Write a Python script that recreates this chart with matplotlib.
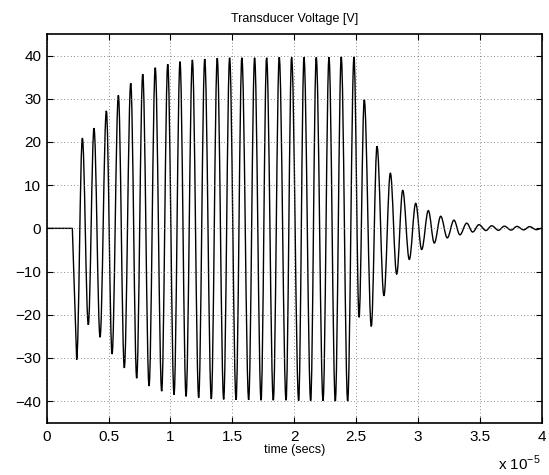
import matplotlib
matplotlib.use('Agg')
import matplotlib.pyplot as plt
from matplotlib.path import Path
from matplotlib.patches import PathPatch

plt.rcParams['font.family'] = ['Liberation Sans', 'DejaVu Sans']
plt.rcParams['mathtext.fontset'] = 'custom'
plt.rcParams['mathtext.rm'] = 'Liberation Sans'

# time axis is in units of 1e-5 s
t_end = 4.0
t_onset = 0.207          # drive switches on here, signal is flat before

# extrema of the transducer voltage (time, volts), in order
ext_t = [0.242, 0.288, 0.336, 0.382, 0.431, 0.482, 0.528, 0.579, 0.627, 0.679,
         0.727, 0.776, 0.827, 0.877, 0.929, 0.978, 1.029, 1.077, 1.126, 1.177,
         1.228, 1.277, 1.330, 1.378, 1.430, 1.478, 1.530, 1.577, 1.632, 1.680,
         1.732, 1.777, 1.831, 1.879, 1.934, 1.979, 2.036, 2.079, 2.133, 2.178,
         2.233, 2.281, 2.332, 2.380, 2.432, 2.483,
         2.524, 2.566, 2.623, 2.669, 2.725, 2.777, 2.828, 2.877, 2.930, 2.982,
         3.030, 3.084, 3.132, 3.184, 3.237, 3.291, 3.339, 3.394, 3.442, 3.493,
         3.549, 3.596, 3.651, 3.698, 3.753, 3.800, 3.855, 3.902, 3.957]
ext_v = [-30.4, 20.9, -22.3, 23.2, -25.2, 27.2, -29.1, 30.8, -32.3, 33.6,
         -34.7, 35.7, -36.5, 37.2, -37.7, 38.0, -38.5, 38.6, -38.9, 39.0,
         -39.2, 39.2, -39.5, 39.4, -39.6, 39.5, -39.7, 39.5, -39.7, 39.5,
         -39.8, 39.5, -39.8, 39.6, -39.8, 39.6, -39.9, 39.6, -39.9, 39.6,
         -39.9, 39.6, -40.0, 39.7, -40.0, 39.7,
         -20.6, 29.8, -22.7, 19.0, -15.6, 12.8, -10.6, 8.8, -7.2, 5.8,
         -4.9, 4.1, -3.4, 2.8, -2.2, 1.9, -1.5, 1.2, -0.85, 0.85,
         -0.5, 0.6, -0.45, 0.5, -0.4, 0.45, -0.35, 0.4, -0.3]

xticks = [0, 0.5, 1, 1.5, 2, 2.5, 3, 3.5, 4]
xticklabels = ['0', '0.5', '1', '1.5', '2', '2.5', '3', '3.5', '4']
yticks = [-40, -30, -20, -10, 0, 10, 20, 30, 40]

# build a smooth path: flat lead-in, then half-cycle Bezier segments between extrema
k = 0.36
verts = [(0, 0), (t_onset, 0), (ext_t[0], ext_v[0])]
codes = [Path.MOVETO, Path.LINETO, Path.LINETO]
pts = list(zip(ext_t, ext_v)) + [(t_end, 0)]
for (t0, v0), (t1, v1) in zip(pts[:-1], pts[1:]):
    dt = t1 - t0
    verts += [(t0 + k * dt, v0), (t1 - k * dt, v1), (t1, v1)]
    codes += [Path.CURVE4] * 3

fig = plt.figure(figsize=(5.49, 4.75), dpi=100)
ax = fig.add_axes([0.0851, 0.1101, 0.9016, 0.8183])

ax.add_patch(PathPatch(Path(verts, codes), facecolor='none', edgecolor='k', lw=1.0))

ax.set_xlim(0, t_end)
ax.set_ylim(-45, 45)
ax.set_xticks(xticks)
ax.set_xticklabels(xticklabels)
ax.set_yticks(yticks)

ax.grid(True, linestyle=(0, (1, 3)), color='0.4', lw=0.6)
ax.tick_params(direction='in', top=True, right=True, length=4, width=0.8,
               labelsize=11, pad=4)
ax.tick_params(axis='x', pad=5)
for s in ax.spines.values():
    s.set_linewidth(1.2)

ax.set_title('Transducer Voltage [V]', fontsize=9, pad=9)
ax.set_xlabel('time (secs)', fontsize=9, labelpad=0)
fig.text(541 / 549, 1 - 463 / 475, 'x 10$^{-5}$', ha='right', va='center', fontsize=11)

fig.savefig('out.png', dpi=100)
